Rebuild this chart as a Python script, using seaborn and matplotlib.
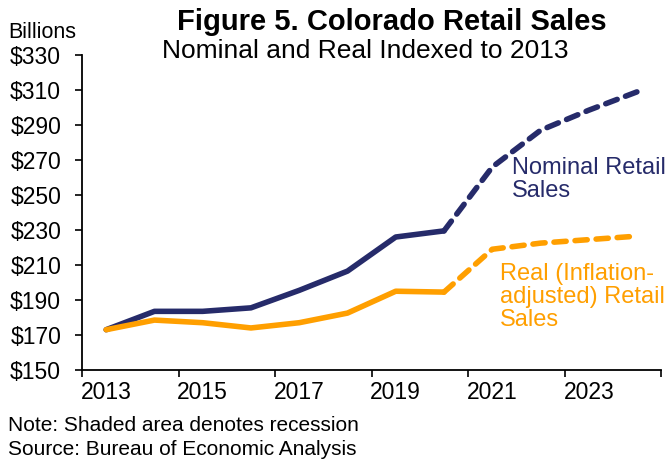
import numpy as np
import pandas as pd
import matplotlib
matplotlib.use("Agg")
import matplotlib.pyplot as plt
import seaborn as sns

# Data (billions of dollars)
years = [2013, 2014, 2015, 2016, 2017, 2018, 2019, 2020, 2021, 2022, 2023, 2024]
nominal = [173, 183.5, 183.5, 185.5, 195.5, 206.5, 226, 229.5, 266, 287, 298.5, 309]
real = [173, 178.5, 177, 174, 177, 182.5, 195, 194.5, 219, 222.5, 224.5, 226.5]
last_actual = 2020
tick_years = [2013, 2015, 2017, 2019, 2021, 2023]

NAVY = "#262B6A"
ORANGE = "#FF9F00"

sns.set_style("white")
plt.rcParams['font.family'] = ['Liberation Sans', 'DejaVu Sans']
plt.rcParams['text.color'] = 'black'
plt.rcParams['xtick.color'] = 'black'
plt.rcParams['ytick.color'] = 'black'

df = pd.DataFrame({"year": years, "nominal": nominal, "real": real})
hist = df[df.year <= last_actual]
proj = df[df.year >= last_actual]

fig = plt.figure(figsize=(6.68, 4.63), dpi=100)
ax = fig.add_axes([0.1228, 0.201, 0.867, 0.680])

for col, color in [("nominal", NAVY), ("real", ORANGE)]:
    sns.lineplot(data=hist, x="year", y=col, color=color, lw=4, ax=ax,
                 solid_capstyle="round", solid_joinstyle="round")
    sns.lineplot(data=proj, x="year", y=col, color=color, lw=4, ax=ax,
                 linestyle=(0, (2.2, 1.6)), dash_capstyle="round")

ax.set_xlim(2012.5, 2024.5)
ax.set_ylim(150, 330)
ax.set_yticks(np.arange(150, 331, 20))
ax.set_yticklabels([f"${v}" for v in range(150, 331, 20)])
ax.set_xticks(tick_years)
ax.set_xticklabels([str(y) for y in tick_years])
ax.set_xticks(np.arange(2012.5, 2024.6, 2), minor=True)
ax.tick_params(axis="x", which="major", length=0, pad=8, labelsize=16.5)
ax.tick_params(axis="x", which="minor", length=5, width=1.2, direction="out", bottom=True)
ax.tick_params(axis="y", length=5, width=1.2, direction="out", left=True, labelsize=16.5, pad=10)
ax.set_xlabel("")
ax.set_ylabel("")
sns.despine(ax=ax)
for s in ["left", "bottom"]:
    ax.spines[s].set_color("black")
    ax.spines[s].set_linewidth(1.3)

fig.text(0.012, 0.93, "Billions", fontsize=15.5, ha="left", va="center")
fig.text(0.586, 0.953, "Figure 5. Colorado Retail Sales", fontsize=21,
         fontweight="bold", ha="center", va="center")
fig.text(0.547, 0.89, "Nominal and Real Indexed to 2013", fontsize=19,
         ha="center", va="center")

ax.text(2021.4, 272, "Nominal Retail\nSales", color=NAVY, fontsize=17,
        ha="left", va="top", linespacing=1.1)
ax.text(2021.15, 211, "Real (Inflation-\nadjusted) Retail\nSales", color=ORANGE,
        fontsize=17, ha="left", va="top", linespacing=1.05)

fig.text(0.012, 0.08, "Note: Shaded area denotes recession", fontsize=15,
         ha="left", va="center")
fig.text(0.012, 0.03, "Source: Bureau of Economic Analysis", fontsize=15,
         ha="left", va="center")

fig.savefig("out.png", dpi=100)
